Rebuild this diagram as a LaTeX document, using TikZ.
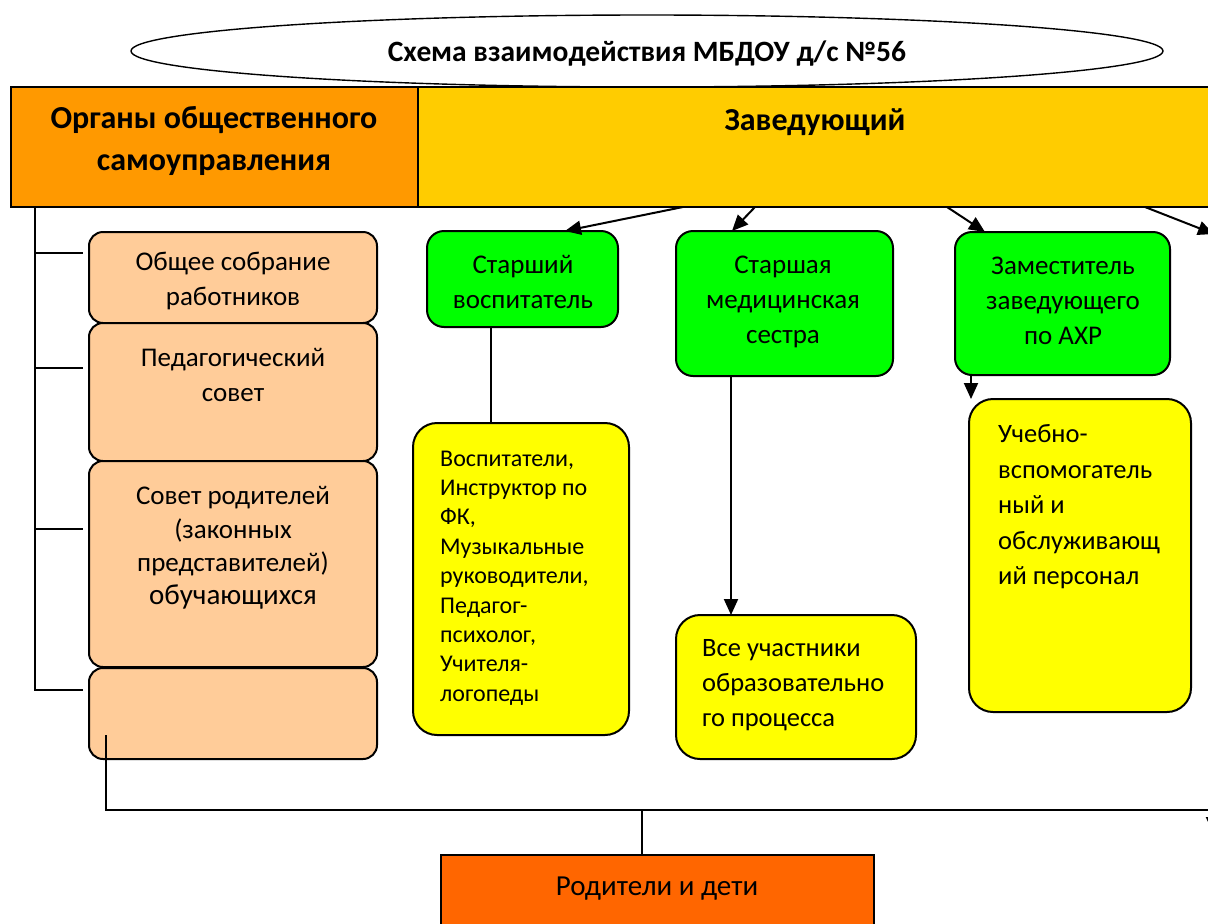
\documentclass[tikz,border=0pt]{standalone}
\usepackage{fontspec}
\setmainfont{Carlito}
\usetikzlibrary{arrows.meta,shapes.geometric}
\definecolor{orgc}{HTML}{FF9900}
\definecolor{zavc}{HTML}{FFCC00}
\definecolor{peachc}{HTML}{FFCC99}
\definecolor{greenc}{HTML}{00FF00}
\definecolor{yellowc}{HTML}{FFFF00}
\definecolor{rdc}{HTML}{FF6600}
\tikzset{
  box/.style={draw, line width=2pt, inner sep=0pt, outer sep=0pt},
  peachbox/.style={box, fill=peachc, rounded corners=14pt},
  greenbox/.style={box, fill=greenc, rounded corners=17pt},
  yellowbox/.style={box, fill=yellowc, rounded corners=24pt},
  txt/.style={inner sep=0pt, font=\fontsize{27}{35}\selectfont, align=center},
  ltxt/.style={inner sep=0pt, anchor=west, align=left},
  hdr/.style={inner sep=0pt, font=\fontsize{32}{42}\selectfont\bfseries, align=center},
  conn/.style={line width=2pt},
  arr/.style={conn, -{Triangle[length=16pt,width=14pt]}},
}
\begin{document}
\begin{tikzpicture}[x=1pt,y=-1pt]
\useasboundingbox (0,0) rectangle (1208,924);
\fill[white] (0,0) rectangle (1208,924);
% title
\node[box, ellipse, minimum width=1032pt, minimum height=72pt, line width=1.4pt] (title) at (647,51) {};
\node[inner sep=0pt, font=\fontsize{29.5}{32}\selectfont\bfseries] (titletxt) at (647,54) {Схема взаимодействия МБДОУ д/с №56};
% header
\node[box, fill=orgc, minimum width=407pt, minimum height=120pt] (org) at (214.5,147) {};
\node[hdr] (orgtxt) at (214,141) {Органы общественного\\самоуправления};
\node[box, fill=zavc, minimum width=822pt, minimum height=120pt] (zav) at (829,147) {};
\node[hdr] (zavtxt) at (815,122) {Заведующий};
% peach boxes
\node[peachbox, minimum width=288pt, minimum height=91pt] (p1) at (233,277.5) {};
\node[peachbox, minimum width=288pt, minimum height=138pt] (p2) at (233,392) {};
\node[peachbox, minimum width=288pt, minimum height=206pt] (p3) at (233,564) {};
\node[peachbox, minimum width=288pt, minimum height=91pt] (p4) at (233,713.5) {};
\node[txt] (p1txt) at (233,281) {Общее собрание\\работников};
\node[txt] (p2txt) at (233,375) {Педагогический\\совет};
\node[txt, font=\fontsize{27}{33.3}\selectfont] (p3txt) at (233,548) {Совет родителей\\(законных\\представителей)\\{\fontsize{29}{33.3}\selectfont обучающихся}};
% green boxes
\node[greenbox, minimum width=191pt, minimum height=96pt] (ga) at (522.5,279) {};
\node[greenbox, minimum width=217pt, minimum height=145pt] (gb) at (784.5,303.5) {};
\node[greenbox, minimum width=215pt, minimum height=143pt] (gc) at (1062.5,303.5) {};
\node[txt] (gatxt) at (523,282) {Старший\\воспитатель};
\node[txt] (gbtxt) at (783,301.5) {Старшая\\медицинская\\сестра};
\node[txt] (gctxt) at (1063,301) {Заместитель\\заведующего\\по АХР};
% yellow boxes
\node[yellowbox, minimum width=216pt, minimum height=312pt] (y1) at (521,579) {};
\node[yellowbox, minimum width=240pt, minimum height=144pt] (y2) at (796,687) {};
\node[yellowbox, minimum width=222pt, minimum height=313pt] (y3) at (1080,555.5) {};
\node[ltxt, font=\fontsize{24}{29.4}\selectfont] (y1txt) at (440,578) {Воспитатели,\\Инструктор по\\ФК,\\Музыкальные\\руководители,\\Педагог-\\психолог,\\Учителя-\\логопеды};
\node[ltxt, font=\fontsize{26.5}{35}\selectfont] (y2txt) at (702,685) {Все участники\\образовательно\\го процесса};
\node[ltxt, font=\fontsize{26.5}{35.5}\selectfont] (y3txt) at (998,507) {Учебно-\\вспомогатель\\ный и\\обслуживающ\\ий персонал};
% bottom box
\node[box, fill=rdc, minimum width=433pt, minimum height=105pt] (rd) at (657.5,907.5) {};
\node[txt, font=\fontsize{29}{35}\selectfont] (rdtxt) at (657,889) {Родители и дети};
% arrows from head
\coordinate (z4end) at (1214,234);
\draw[arr] ([xshift=265pt]zav.south west) -- ([xshift=42.5pt]ga.north);
\draw[arr] ([xshift=337pt]zav.south west) -- ([xshift=-52.5pt]gb.north);
\draw[arr] ([xshift=529pt]zav.south west) -- ([xshift=-77.5pt]gc.north);
\draw[arr] ([xshift=727pt]zav.south west) -- (z4end);
% vertical links
\draw[conn] ([xshift=-31.5pt]ga.south) -- ([xshift=-31.5pt]ga.south |- y1.north);
\draw[arr] ([xshift=-53.5pt]gb.south) -- ([xshift=-53.5pt]gb.south |- y2.north);
\draw[arr] ([xshift=-91.5pt]gc.south) -- ([xshift=-91.5pt]gc.south |- y3.north);
% left tree
\coordinate (ltop) at ([xshift=24pt]org.south west);
\coordinate (t1) at (83,253);
\coordinate (t2) at (83,368);
\coordinate (t3) at (83,529);
\coordinate (t4) at (83,690);
\draw[conn] (ltop) |- (t4);
\draw[conn] (ltop |- t1) -- (t1);
\draw[conn] (ltop |- t2) -- (t2);
\draw[conn] (ltop |- t3) -- (t3);
% bottom connector
\coordinate (bstart) at (106,735);
\coordinate (bcorner) at (106,810);
\coordinate (bright) at (1213,810);
\coordinate (bend) at (1213,833);
\coordinate (bmid) at ([xshift=-15.5pt]rd.north |- bcorner);
\draw[conn] (bstart) -- (bcorner) -- (bright);
\draw[arr] (bright) -- (bend);
\draw[conn] (bmid) -- ([xshift=-15.5pt]rd.north);
\end{tikzpicture}
\end{document}
